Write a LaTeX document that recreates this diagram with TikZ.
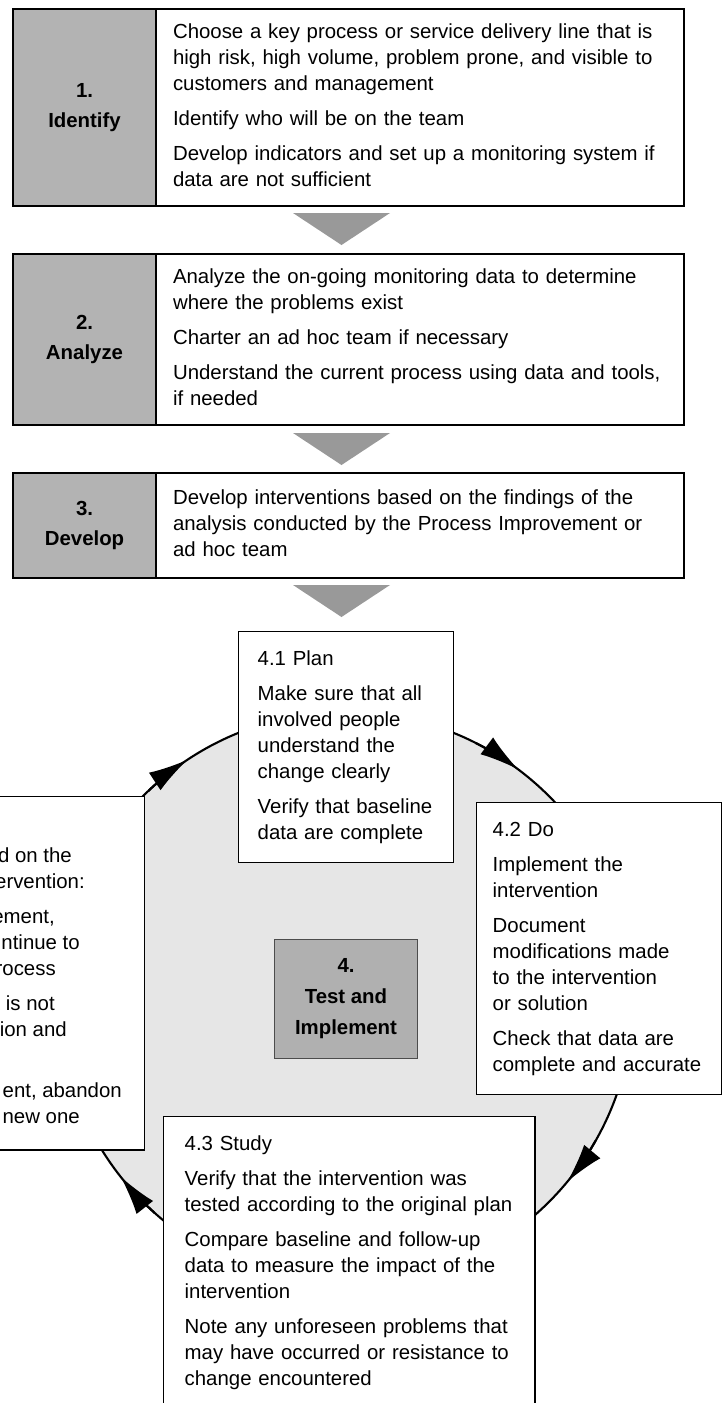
\documentclass[tikz,border=0pt]{standalone}
\usepackage{fontspec}
\setmainfont{Liberation Sans}
\usetikzlibrary{positioning, calc, arrows.meta}
\definecolor{stepgray}{HTML}{B3B3B3}
\definecolor{hubgray}{HTML}{B0B0B0}
\definecolor{trigray}{HTML}{999999}
\definecolor{ringgray}{HTML}{E6E6E6}
\newcommand{\bodyfont}{\fontsize{14.5}{18.5}\selectfont}
\newcommand{\headfont}{\fontsize{14.5}{21.5}\selectfont\bfseries}
\tikzset{
	steplabel/.style={draw, rectangle, outer sep=0pt, line width=1.3pt, fill=stepgray, minimum width=3.575cm, align=center, font=\headfont},
	steptext/.style={draw, rectangle, outer sep=0pt, line width=1.3pt, fill=white, inner xsep=0.425cm, text width=12.35cm, align=left, font=\bodyfont, execute at begin node=\strut, execute at end node=\strut},
	% boxes round the cycle
	phasebox/.style={draw, rectangle, line width=1pt, fill=white, anchor=north west},
	phase/.style={phasebox, inner ysep=0.385cm, align=left, font=\bodyfont, execute at begin node=\strut, execute at end node=\strut},
	hub/.style={draw=black!70, rectangle, line width=1pt, fill=hubgray, minimum width=3.575cm, minimum height=2.975cm, align=center, font=\fontsize{14.5}{22}\selectfont\bfseries},
	frag/.style={anchor=base east, inner sep=0pt, font=\bodyfont},
	tri/.style={fill=trigray},
	ring/.style={draw, line width=1.5pt, fill=ringgray},
	cycarrow/.style={line width=1.5pt, -{Latex[length=28pt, width=15pt]}},
}

\begin{document}
\begin{tikzpicture}[x=0.025cm, y=0.025cm]
\useasboundingbox (0,0) rectangle (723,-1403);
\clip (0,0) rectangle (723,-1403);

\node (ident) [steplabel, anchor=north west, minimum height=4.925cm] at (13,-9) {1.\\Identify};
\node (identtxt) [steptext, right=0pt of ident, minimum height=4.925cm] {Choose a key process or service delivery line that is\\ high risk, high volume, problem prone, and visible to\\ customers and management\\[6.4pt] Identify who will be on the team\\[6.4pt] Develop indicators and set up a monitoring system if\\ data are not sufficient};

\node (analyze) [steplabel, below=1.2cm of ident, minimum height=4.275cm] {2.\\Analyze};
\node (analyzetxt) [steptext, right=0pt of analyze, minimum height=4.275cm] {Analyze the on-going monitoring data to determine\\ where the problems exist\\[6.4pt] Charter an ad hoc team if necessary\\[6.4pt] Understand the current process using data and tools,\\ if needed};

\node (develop) [steplabel, below=1.2cm of analyze, minimum height=2.625cm] {3.\\Develop};
\node (developtxt) [steptext, right=0pt of develop, minimum height=2.625cm] {Develop interventions based on the findings of the\\ analysis conducted by the Process Improvement or\\ ad hoc team};

\foreach \ty in {213,433,585}
	\fill[tri] (293,-\ty) -- (390,-\ty) -- (341.5,-\ty-32) -- cycle;

% the test and implement cycle
\coordinate (c) at (346,-999);
\draw[ring] (c) circle[radius=287];
\foreach \a in {123.5,53.1,-39.6,218.2}
	\draw[cycarrow] ($(c)+({\a+10}:287)$) arc[start angle=\a+10, end angle=\a, radius=287];

\node (hub) [hub] at (c) {4.\\Test and\\Implement};

\node (plan) [phase, inner xsep=0.475cm, text width=4.425cm, minimum height=5.775cm] at (238,-631) {4.1 Plan\\[6.4pt] Make sure that all\\ involved people\\ understand the\\ change clearly\\[6.4pt] Verify that baseline\\ data are complete};

\node (do) [phase, inner xsep=0.4cm, text width=5.325cm, minimum height=7.3cm] at (476,-802) {4.2 Do\\[6.4pt] Implement the\\ intervention\\[6.4pt] Document\\ modifications made\\ to the intervention\\ or solution\\[6.4pt] Check that data are\\ complete and accurate};

\node (study) [phase, inner xsep=0.525cm, text width=8.225cm] at (163,-1116) {4.3 Study\\[6.4pt] Verify that the intervention was\\ tested according to the original plan\\[6.4pt] Compare baseline and follow-up\\ data to measure the impact of the\\ intervention\\[6.4pt] Note any unforeseen problems that\\ may have occurred or resistance to\\ change encountered};

\node (act) [phasebox, minimum width=7.35cm, minimum height=8.825cm] at (-150,-796) {};
\foreach \xe/\yb/\txt [count=\i] in {72/862/d on the, 85/888/ervention:, 55/923/{ement,}, 80/949/ntinue to, 56/975/rocess, 55/1010/t is not, 67/1036/ion and, 122/1097/{ent, abandon}, 80/1123/new one}
	\node (act\i) [frag] at (\xe,-\yb) {\txt};
\end{tikzpicture}
\end{document}
